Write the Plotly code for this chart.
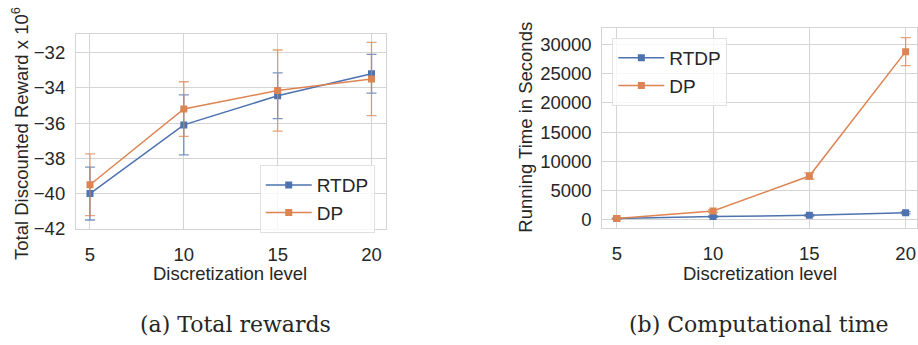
import plotly.graph_objects as go

levels = [5, 10, 15, 20]

# (a) Total discounted reward (x 10^6)
rtdp_reward = [-40.0, -36.1, -34.45, -33.2]
rtdp_reward_err = [1.5, 1.7, 1.3, 1.1]
dp_reward = [-39.5, -35.2, -34.15, -33.5]
dp_reward_err = [1.75, 1.55, 2.3, 2.08]

# (b) Running time in seconds
rtdp_time = [150, 500, 700, 1150]
rtdp_time_err = [60, 120, 150, 200]
dp_time = [150, 1450, 7450, 28800]
dp_time_err = [60, 250, 550, 2400]

x_ticks = [5, 10, 15, 20]
reward_ticks = [-42, -40, -38, -36, -34, -32]
time_ticks = [0, 5000, 10000, 15000, 20000, 25000, 30000]

BLUE = "#4C72B0"
ORANGE = "#DD8452"
BLUE_E = "rgba(76,114,176,0.75)"
ORANGE_E = "rgba(221,132,82,0.75)"
GRID = "#d4d4d4"
TXT = "#262626"
SANS = "Liberation Sans, Arial, sans-serif"
SERIF = "DejaVu Serif, Liberation Serif, serif"

fig = go.Figure()

def add(x, y, err, name, color, ecolor, xa, ya, legend):
    fig.add_trace(go.Scatter(
        x=x, y=y, name=name, mode="lines+markers",
        line=dict(color=color, width=1.5),
        marker=dict(symbol="square", size=7, color=color),
        error_y=dict(type="data", array=err, visible=True, color=ecolor,
                     thickness=1.3, width=5),
        xaxis=xa, yaxis=ya, legend=legend,
    ))

add(levels, rtdp_reward, rtdp_reward_err, "RTDP", BLUE, BLUE_E, "x", "y", "legend")
add(levels, dp_reward, dp_reward_err, "DP", ORANGE, ORANGE_E, "x", "y", "legend")
add(levels, rtdp_time, rtdp_time_err, "RTDP", BLUE, BLUE_E, "x2", "y2", "legend2")
add(levels, dp_time, dp_time_err, "DP", ORANGE, ORANGE_E, "x2", "y2", "legend2")

axis_common = dict(
    showgrid=True, gridcolor=GRID, gridwidth=1,
    showline=True, linecolor=GRID, linewidth=1, mirror=True,
    zeroline=False, ticks="", tickfont=dict(family=SANS, size=18.5, color=TXT),
)

W, H = 918, 345
legend_common = dict(xanchor="left", yanchor="top",
                     bgcolor="rgba(255,255,255,0.8)", bordercolor="#e0e0e0", borderwidth=1,
                     font=dict(family=SANS, size=19, color=TXT), itemwidth=46,
                     tracegroupgap=0)
fig.update_layout(
    width=W, height=H,
    margin=dict(l=0, r=0, t=0, b=0),
    paper_bgcolor="white", plot_bgcolor="white",
    xaxis=dict(domain=[76 / W, 386 / W], range=[4.25, 20.75], tickvals=x_ticks,
               anchor="y", ticklabelstandoff=9, **axis_common),
    yaxis=dict(domain=[1 - 236 / H, 1 - 35 / H], range=[-42.02, -30.94],
               tickvals=reward_ticks, anchor="x", ticklabelstandoff=6, **axis_common),
    xaxis2=dict(domain=[603 / W, 1.0], range=[4.25, 20.59], tickvals=x_ticks,
                anchor="y2", ticklabelstandoff=9, **axis_common),
    yaxis2=dict(domain=[1 - 234.3 / H, 1 - 28.7 / H], range=[-1383, 32883],
                tickvals=time_ticks, tickformat="d", anchor="x2", ticklabelstandoff=6,
                **axis_common),
    legend=dict(x=260 / W, y=1 - 170 / H, **legend_common),
    legend2=dict(x=613 / W, y=1 - 39 / H, **legend_common),
)

annots = [
    dict(text="Total Discounted Reward x 10<sup>6</sup>", x=20 / W, y=1 - 137 / H,
         textangle=-90, size=18.5, family=SANS, anchor="middle"),
    dict(text="Running Time in Seconds", x=526 / W, y=1 - 131 / H,
         textangle=-90, size=18.5, family=SANS, anchor="middle"),
    dict(text="Discretization level", x=230 / W, y=1 - 282 / H,
         textangle=0, size=18.5, family=SANS, anchor="middle"),
    dict(text="Discretization level", x=761 / W, y=1 - 282 / H,
         textangle=0, size=18.5, family=SANS, anchor="middle"),
    dict(text="(a) Total rewards", x=236 / W, y=1 - 349 / H,
         textangle=0, size=22, family=SERIF, anchor="bottom"),
    dict(text="(b) Computational time", x=760 / W, y=1 - 349 / H,
         textangle=0, size=22, family=SERIF, anchor="bottom"),
]
for a in annots:
    fig.add_annotation(text=a["text"], x=a["x"], y=a["y"], xref="paper", yref="paper",
                       xanchor="center", yanchor=a["anchor"], showarrow=False,
                       textangle=a["textangle"],
                       font=dict(family=a["family"], size=a["size"], color=TXT))

fig.write_html("out.html")
